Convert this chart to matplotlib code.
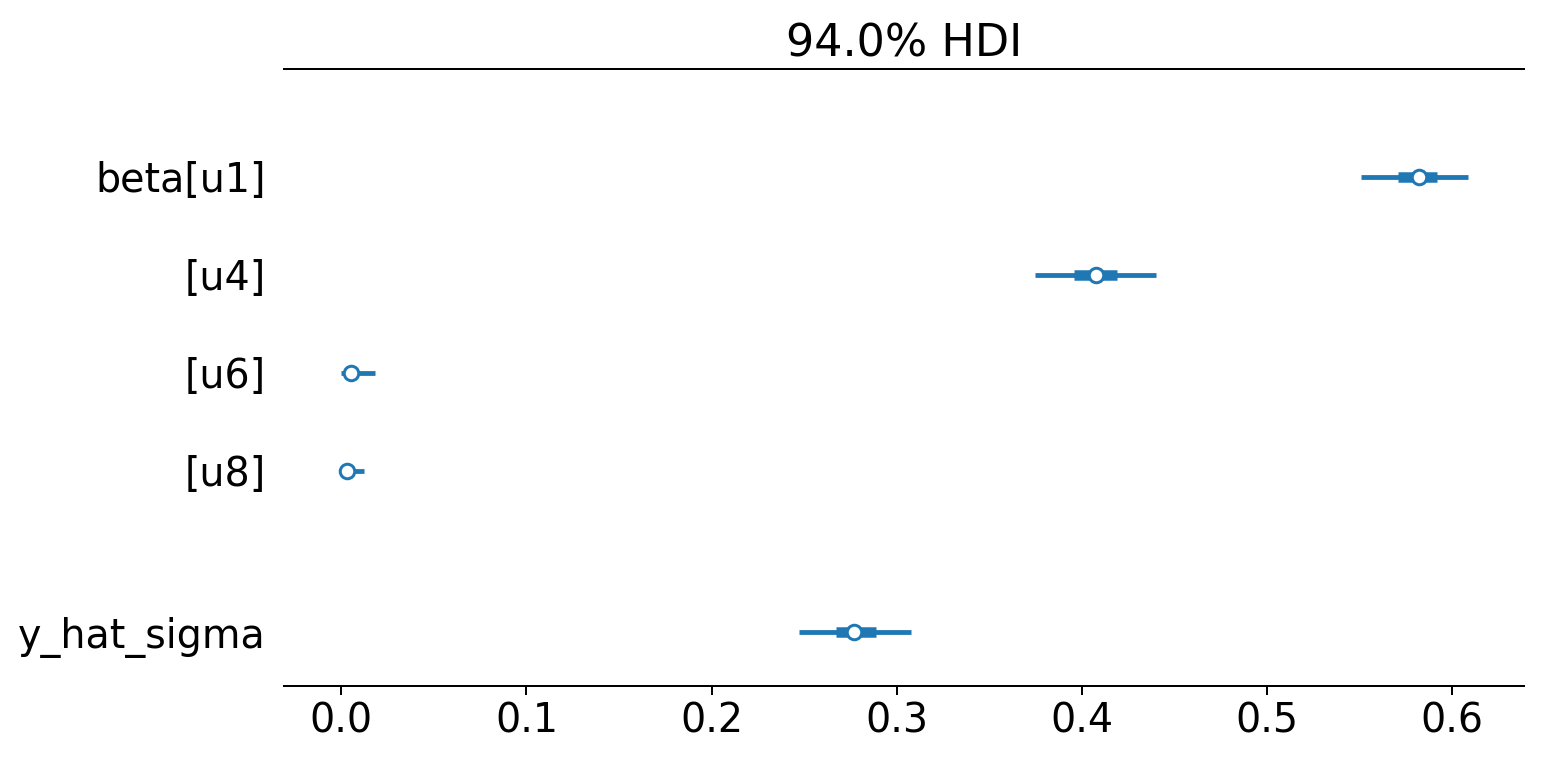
import numpy as np
import matplotlib
matplotlib.use("Agg")
import matplotlib.pyplot as plt

# forest plot values
labels = ["beta[u1]", "[u4]", "[u6]", "[u8]", "y_hat_sigma"]
group = [0, 0, 0, 0, 1]
hdi_low = [0.551, 0.375, 0.000, 0.000, 0.247]
hdi_high = [0.609, 0.440, 0.018, 0.012, 0.308]
iqr_low = [0.571, 0.396, 0.002, 0.001, 0.267]
iqr_high = [0.592, 0.419, 0.008, 0.005, 0.289]
median = [0.582, 0.408, 0.005, 0.003, 0.277]

col = "#1f77b4"
px = 0.72  # points per pixel at dpi 100

# y positions: one step per row, extra gap between variables
y = -(np.arange(len(labels)) + 0.643 * np.array(group))

fig = plt.figure(figsize=(15.44, 7.64), dpi=100)
ax = fig.add_axes([284 / 1544, 1 - 686 / 764, (1524 - 284) / 1544, (686 - 69) / 764])

ax.hlines(y, hdi_low, hdi_high, color=col, lw=4.8 * px)
ax.hlines(y, iqr_low, iqr_high, color=col, lw=10.5 * px)
ax.plot(median, y, "o", color=col, mfc="white", mec=col, ms=14.5 * px, mew=3 * px)

ax.set_xlim(-0.031, 0.639)
ax.set_ylim(y[-1] - 0.551, 1.102)
ax.set_xticks(np.arange(0, 0.61, 0.1))
ax.set_yticks(y)
ax.set_yticklabels(labels)

ax.tick_params(axis="x", labelsize=28.5, length=9 * px, width=2 * px, pad=5)
ax.tick_params(axis="y", labelsize=28.5, length=0, pad=18 * px)
for s in ["left", "right"]:
    ax.spines[s].set_visible(False)
for s in ["top", "bottom"]:
    ax.spines[s].set_linewidth(2 * px)

ax.set_title("94.0% HDI", fontsize=32, pad=9)

fig.savefig("out.png", dpi=100)
